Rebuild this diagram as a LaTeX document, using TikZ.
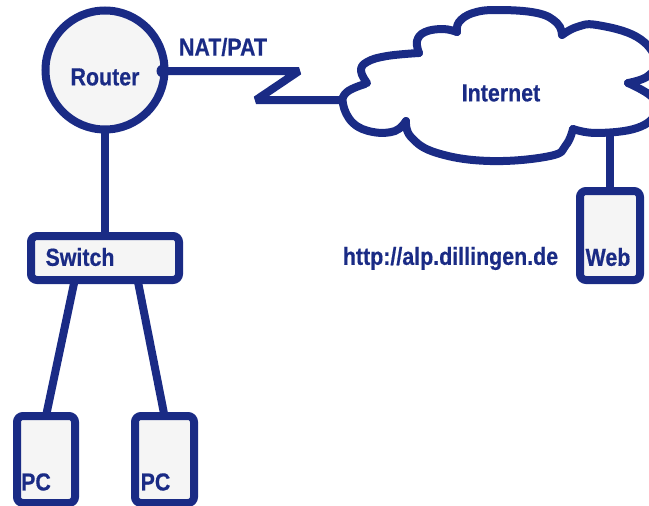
\documentclass[tikz,border=0pt]{standalone}
\usepackage{fontspec}
\setmainfont[FakeStretch=0.87,BoldFeatures={FakeBold=0.5}]{Liberation Sans}
\usepackage{tikz}
\definecolor{netblue}{RGB}{26,43,133}
\definecolor{boxgray}{RGB}{245,245,245}
\tikzset{
  wire/.style={color=netblue,line width=8pt,line join=round},
  device/.style={draw=netblue,fill=boxgray,line width=8pt,rounded corners=6pt,rectangle,inner sep=0pt,outer sep=0pt},
  lbl/.style={color=netblue,font=\fontsize{24.6}{26}\selectfont\bfseries,inner sep=0pt}
}
\begin{document}
\begin{tikzpicture}[x=1pt,y=-1pt]
    \useasboundingbox (0,0) rectangle (649,506);
    % cloud
    \draw[wire,line cap=round] plot[smooth,tension=0.7] coordinates {(365,84) (347,92) (343,104) (353,123) (373,132) (395,131) (406,121)};
    \draw[wire,line cap=round] plot[smooth,tension=0.7] coordinates {(406,121) (411,137) (437,153) (490,161) (550,156) (566,145) (573,129)};
    \draw[wire,line cap=round] plot[smooth,tension=0.7] coordinates {(573,129) (597,133) (637,128) (656,113) (652,97) (628,83)};
    \draw[wire,line cap=round] plot[smooth,tension=0.7] coordinates {(628,83) (648,76) (656,60) (637,37) (597,25) (577,27) (562,35)};
    \draw[wire,line cap=round] plot[smooth,tension=0.7] coordinates {(562,35) (557,23) (537,13) (497,10) (473,13) (459,22) (457,32)};
    \draw[wire,line cap=round] plot[smooth,tension=0.7] coordinates {(457,32) (443,29) (425,32) (417,41) (419,53)};
    \draw[wire,line cap=round] plot[smooth,tension=0.7] coordinates {(419,53) (387,56) (367,62) (361,71) (367,83)};
    \node[lbl,at={(501,93)}] (internet) {Internet};
    % devices
    \node[device,circle,minimum size=119pt,at={(105,70)}] (router) {};
    \node[device,minimum width=148pt,minimum height=44pt,at={(105,258)}] (switch) {};
    \node[device,minimum width=58pt,minimum height=87pt,at={(46,459.5)}] (pca) {};
    \node[device,minimum width=59pt,minimum height=87pt,at={(164.5,459.5)}] (pcb) {};
    \node[device,minimum width=60pt,minimum height=89pt,at={(610,235.5)}] (web) {};
    % labels
    \node[lbl,at={(105,77)}] (routertext) {Router};
    \node[lbl,at={(223,47)}] (nat) {NAT/PAT};
    \node[lbl,at={(80,257)}] (switchtext) {Switch};
    \node[lbl,at={(36,482)}] (pcatext) {PC};
    \node[lbl,at={(155.5,482)}] (pcbtext) {PC};
    \node[lbl,at={(608,257)}] (webtext) {Web};
    \node[lbl,at={(450.5,258.5)}] (url) {http://alp.dillingen.de};
    % connections
    \coordinate (cloudleft) at (343,100);
    \coordinate (cloudfoot) at (610,133);
    \coordinate (zigtop) at (299,71);
    \coordinate (zigbot) at (256,100);
    \fill[color=netblue] (163,71) circle (6.5pt);
    \draw[wire,line join=bevel] (router.east |- zigtop) -- (zigtop) -- (zigbot) -- (cloudleft);
    \draw[wire] (router.south) -- (switch.north);
    \draw[wire] (switch.-144) -- (pca.north);
    \draw[wire] (switch.-34) -- (pcb.north);
    \draw[wire] (cloudfoot) -- (web.north);
\end{tikzpicture}
\end{document}
